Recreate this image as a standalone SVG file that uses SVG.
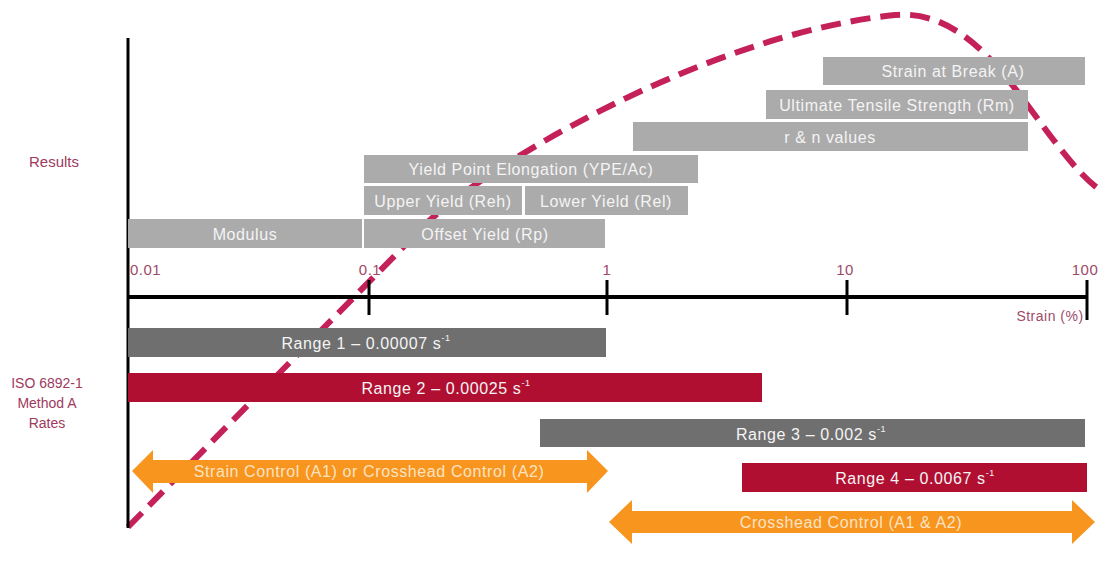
<svg xmlns="http://www.w3.org/2000/svg" width="1105" height="563" viewBox="0 0 1105 563">
<style>
.lbl{font-family:"Liberation Sans",Arial,sans-serif;font-size:16px;letter-spacing:0.6px;fill:#F4F4F4;text-anchor:middle;dominant-baseline:central}
.light{fill:#ABABAB}
.dark{fill:#6F6F6F}
.red{fill:#B10F31}
.orange{fill:#F7951E}
.ax{font-family:"Liberation Sans",Arial,sans-serif;font-size:15px;letter-spacing:0.5px;fill:#9E4A68}
.side{font-family:"Liberation Sans",Arial,sans-serif;font-size:14px;fill:#9E3A5E;text-anchor:middle}
.sup{font-size:9px}
</style>
<rect width="1105" height="563" fill="#FFFFFF"/>
<g id="curve">
<path d="M128,527 L420,230 C470,175 700,35 895,15 C950,10 990,55 1020,95 C1050,135 1075,172 1100,190" fill="none" stroke="#C4215A" stroke-width="6" stroke-dasharray="20,10"/>
</g>
<g id="connectors">
<line x1="128" y1="38" x2="128" y2="528" stroke="#000" stroke-width="3"/>
<line x1="128" y1="297" x2="1087" y2="297" stroke="#000" stroke-width="4"/>
<line x1="369" y1="280" x2="369" y2="315" stroke="#000" stroke-width="3"/>
<line x1="607" y1="280" x2="607" y2="315" stroke="#000" stroke-width="3"/>
<line x1="847" y1="280" x2="847" y2="315" stroke="#000" stroke-width="3"/>
<line x1="1087" y1="280" x2="1087" y2="320" stroke="#000" stroke-width="3"/>
</g>
<g id="axis-labels">
<text class="ax" x="130" y="275">0.01</text>
<text class="ax" x="370" y="275" text-anchor="middle">0.1</text>
<text class="ax" x="607" y="275" text-anchor="middle">1</text>
<text class="ax" x="845" y="275" text-anchor="middle">10</text>
<text class="ax" x="1085" y="275" text-anchor="middle">100</text>
<text class="ax" x="1050" y="321" text-anchor="middle" style="font-size:14px">Strain (%)</text>
</g>
<g id="results-label"><text class="side" x="54" y="167" style="font-size:15px">Results</text></g>
<g id="iso-label">
<text class="side" x="47" y="388">ISO 6892-1</text>
<text class="side" x="47" y="408">Method A</text>
<text class="side" x="47" y="428">Rates</text>
</g>
<g id="modulus"><rect class="light" x="128" y="219" width="234" height="29"/><text class="lbl" x="245" y="234">Modulus</text></g>
<g id="offset-yield"><rect class="light" x="364" y="219" width="241" height="29"/><text class="lbl" x="485" y="234">Offset Yield (Rp)</text></g>
<g id="upper-yield"><rect class="light" x="364" y="186" width="158" height="29"/><text class="lbl" x="443" y="201">Upper Yield (Reh)</text></g>
<g id="lower-yield"><rect class="light" x="525" y="186" width="163" height="29"/><text class="lbl" x="606" y="201">Lower Yield (Rel)</text></g>
<g id="ype"><rect class="light" x="364" y="155" width="334" height="28"/><text class="lbl" x="531" y="169">Yield Point Elongation (YPE/Ac)</text></g>
<g id="rn-values"><rect class="light" x="633" y="122" width="395" height="29"/><text class="lbl" x="830" y="137">r &amp; n values</text></g>
<g id="uts"><rect class="light" x="766" y="90" width="262" height="29"/><text class="lbl" x="897" y="105">Ultimate Tensile Strength (Rm)</text></g>
<g id="strain-break"><rect class="light" x="823" y="57" width="262" height="28"/><text class="lbl" x="953" y="71">Strain at Break (A)</text></g>
<g id="range1"><rect class="dark" x="128" y="328" width="478" height="29"/><text class="lbl" x="366" y="343">Range 1 – 0.00007 s<tspan class="sup" dy="-5">-1</tspan></text></g>
<g id="range2"><rect class="red" x="128" y="373" width="634" height="29"/><text class="lbl" x="446" y="388">Range 2 – 0.00025 s<tspan class="sup" dy="-5">-1</tspan></text></g>
<g id="range3"><rect class="dark" x="540" y="419" width="545" height="28"/><text class="lbl" x="811" y="434">Range 3 – 0.002 s<tspan class="sup" dy="-5">-1</tspan></text></g>
<g id="range4"><rect class="red" x="742" y="463" width="345" height="29"/><text class="lbl" x="915" y="478">Range 4 – 0.0067 s<tspan class="sup" dy="-5">-1</tspan></text></g>
<g id="strain-control">
<polygon class="orange" points="132,471 153,450 153,460 587,460 587,450 608,471 587,493 587,483 153,483 153,493"/>
<text class="lbl" x="369" y="471" style="fill:#FCE3C2">Strain Control (A1) or Crosshead Control (A2)</text>
</g>
<g id="crosshead-control">
<polygon class="orange" points="609,522 632,500 632,511 1072,511 1072,500 1095,522 1072,544 1072,533 632,533 632,544"/>
<text class="lbl" x="851" y="522" style="fill:#FCE3C2">Crosshead Control (A1 &amp; A2)</text>
</g>
</svg>
